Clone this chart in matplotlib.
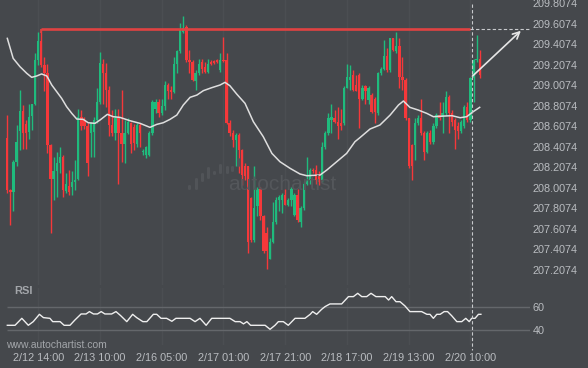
"""Hourly candlestick chart with resistance breakout and RSI panel (autochartist style)."""

import numpy as np
import matplotlib
matplotlib.use("Agg")
import matplotlib.pyplot as plt
from matplotlib.lines import Line2D
from matplotlib.patches import FancyBboxPatch
from matplotlib import transforms

plt.rcParams["font.family"] = ["Liberation Sans", "DejaVu Sans"]

# ---- data ----
opens = [208.50, 207.99, 207.97, 208.26, 208.56, 208.76, 208.63, 208.55, 208.71, 208.83,
         209.26, 209.44, 209.21, 209.13, 208.43, 208.10, 208.17, 208.25, 208.31, 207.98,
         208.03, 208.02, 208.07, 208.10, 208.70, 208.67, 208.61, 208.54, 208.55, 208.67,
         208.85, 209.22, 209.13, 208.96, 208.62, 208.54, 208.69, 208.54, 208.44, 208.54,
         208.64, 208.60, 208.44, 208.62, 208.36, 208.33, 208.33, 208.54, 208.78, 208.85,
         208.74, 208.81, 209.01, 208.96, 208.94, 209.22, 209.34, 209.53, 209.58, 209.26,
         209.24, 209.05, 209.13, 209.24, 209.19, 209.14, 209.24, 209.25, 209.26, 209.16,
         209.26, 209.26, 208.64, 208.54, 208.48, 208.52, 208.38, 208.22, 208.22, 207.91,
         207.50, 207.83, 208.00, 207.73, 207.57, 207.31, 207.48, 207.68, 207.89, 207.89,
         207.94, 207.84, 207.89, 207.74, 207.94, 207.68, 207.81, 208.05, 208.09, 208.18,
         208.18, 208.13, 208.09, 208.41, 208.54, 208.67, 208.69, 208.65, 208.64, 208.64,
         208.98, 209.06, 209.11, 209.01, 209.11, 208.88, 209.00, 208.87, 208.91, 208.88,
         208.74, 209.13, 209.17, 209.30, 209.16, 209.47, 209.34, 209.39, 209.09, 209.06,
         208.69, 208.43, 208.43, 208.64, 208.69, 208.54, 208.36, 208.54, 208.46, 208.61,
         208.72, 208.70, 208.74, 208.90, 208.74, 208.67, 208.61, 208.56, 208.61, 208.80,
         208.67, 209.08, 209.26, 209.27]
highs = [208.72, 208.00, 208.28, 208.62, 208.96, 208.82, 208.67, 208.83, 208.83, 209.32,
         209.53, 209.56, 209.29, 209.22, 208.44, 208.31, 208.36, 208.41, 208.33, 208.15,
         208.18, 208.17, 208.28, 208.78, 208.77, 208.70, 208.64, 208.65, 208.70, 208.98,
         209.33, 209.27, 209.23, 209.00, 208.77, 208.78, 208.78, 208.96, 208.67, 208.69,
         208.65, 208.63, 208.64, 208.64, 208.39, 208.42, 208.56, 208.87, 208.88, 208.88,
         208.88, 209.05, 209.03, 209.00, 209.29, 209.35, 209.62, 209.69, 209.60, 209.35,
         209.26, 209.16, 209.27, 209.27, 209.24, 209.27, 209.26, 209.26, 209.27, 209.32,
         209.48, 209.32, 208.67, 208.57, 208.54, 208.54, 208.39, 208.25, 208.22, 207.92,
         208.22, 208.02, 208.02, 207.74, 207.63, 207.52, 207.87, 207.92, 207.94, 207.96,
         208.00, 207.91, 208.02, 207.96, 208.00, 207.83, 208.07, 208.31, 208.20, 208.20,
         208.23, 208.17, 208.46, 208.56, 208.74, 208.83, 208.77, 208.80, 208.78, 209.00,
         209.22, 209.21, 209.16, 209.11, 209.13, 209.01, 209.01, 209.00, 208.93, 208.90,
         209.14, 209.19, 209.45, 209.37, 209.47, 209.47, 209.53, 209.47, 209.29, 209.08,
         208.69, 208.44, 208.69, 208.72, 208.88, 208.56, 208.56, 208.57, 208.64, 208.74,
         208.85, 208.85, 208.95, 208.91, 208.77, 208.69, 208.65, 208.67, 208.82, 208.85,
         209.09, 209.27, 209.50, 209.35]
lows = [207.96, 207.65, 207.78, 208.22, 208.38, 208.39, 208.39, 208.49, 208.57, 208.82,
        209.21, 209.19, 208.95, 208.35, 207.57, 207.89, 207.92, 208.15, 207.92, 207.96,
        207.94, 207.94, 207.99, 208.09, 208.57, 208.58, 208.12, 208.31, 208.31, 208.64,
        208.83, 208.83, 208.80, 208.51, 208.51, 208.48, 208.05, 208.26, 208.25, 208.53,
        208.35, 208.38, 208.41, 208.41, 208.33, 208.30, 208.32, 208.52, 208.74, 208.70,
        208.72, 208.77, 208.88, 208.88, 208.93, 209.13, 209.32, 209.52, 209.24, 209.13,
        209.05, 208.96, 209.11, 209.13, 209.13, 209.13, 209.21, 209.22, 209.23, 209.14,
        209.24, 208.63, 208.51, 208.41, 208.22, 208.15, 208.04, 208.09, 207.37, 207.48,
        207.48, 207.73, 207.70, 207.37, 207.22, 207.31, 207.47, 207.66, 207.78, 207.76,
        207.84, 207.83, 207.83, 207.73, 207.68, 207.63, 207.79, 208.04, 208.05, 208.15,
        208.05, 208.04, 208.07, 208.39, 208.52, 208.54, 208.64, 208.49, 208.57, 208.62,
        208.98, 208.96, 208.95, 208.95, 208.59, 208.87, 208.83, 208.83, 208.74, 208.64,
        208.72, 209.11, 209.16, 209.14, 209.14, 209.34, 209.32, 208.98, 208.96, 208.67,
        208.20, 208.09, 208.28, 208.62, 208.52, 208.28, 208.35, 208.44, 208.44, 208.59,
        208.67, 208.54, 208.72, 208.54, 208.61, 208.39, 208.49, 208.54, 208.59, 208.65,
        208.65, 208.85, 209.24, 209.08]
closes = [207.99, 207.97, 208.26, 208.46, 208.76, 208.54, 208.54, 208.70, 208.83, 209.26,
          209.44, 209.21, 209.13, 208.43, 208.10, 208.17, 208.25, 208.31, 207.99, 208.05,
          207.97, 208.07, 208.09, 208.70, 208.61, 208.61, 208.25, 208.64, 208.67, 208.85,
          209.23, 209.13, 208.96, 208.62, 208.54, 208.69, 208.54, 208.44, 208.54, 208.65,
          208.44, 208.45, 208.62, 208.54, 208.36, 208.41, 208.54, 208.85, 208.85, 208.74,
          208.81, 209.01, 208.95, 208.94, 209.22, 209.34, 209.55, 209.57, 209.26, 209.24,
          209.06, 209.13, 209.22, 209.17, 209.14, 209.22, 209.22, 209.23, 209.24, 209.26,
          209.25, 208.64, 208.54, 208.48, 208.52, 208.38, 208.13, 208.12, 207.48, 207.50,
          207.81, 208.00, 207.73, 207.39, 207.39, 207.48, 207.68, 207.89, 207.92, 207.94,
          207.84, 207.89, 208.00, 207.94, 207.70, 207.81, 208.05, 208.09, 208.18, 208.17,
          208.09, 208.07, 208.41, 208.54, 208.69, 208.70, 208.65, 208.61, 208.61, 208.98,
          209.09, 209.09, 208.96, 208.95, 208.88, 208.98, 208.95, 208.98, 208.75, 208.75,
          209.13, 209.17, 209.30, 209.16, 209.47, 209.35, 209.39, 209.09, 209.06, 208.69,
          208.22, 208.22, 208.64, 208.69, 208.54, 208.36, 208.54, 208.46, 208.61, 208.72,
          208.69, 208.74, 208.90, 208.74, 208.65, 208.57, 208.56, 208.65, 208.80, 208.67,
          209.08, 209.26, 209.27, 209.11]

# moving average, read as knots (candle index, price)
ma_x = [0, 1.9, 4.1, 6.3, 7.9, 9.5, 11.1, 12.8, 14.4, 16.0, 17.6, 19.2, 20.9, 22.5, 24.6,
        26.2, 28.4, 30.0, 32.4, 34.3, 36.5, 39.7, 43.0, 46.2, 48.4, 50.5, 52.7, 54.9, 57.0,
        59.2, 61.4, 63.5, 66.2, 68.9, 70.5, 72.1, 74.3, 77.0, 79.7, 82.9, 85.7, 88.3, 91.6,
        94.8, 97.0, 101.3, 103.5, 106.7, 109.9, 112.6, 114.3, 117.5, 120.7, 124.0, 126.7,
        128.3, 130.4, 133.1, 135.9, 138.0, 141.2, 144.0, 146.7, 148.8, 150.9, 153.0]
ma_y = [209.467, 209.272, 209.191, 209.126, 209.087, 209.100, 209.120, 209.100, 209.012,
        208.947, 208.882, 208.801, 208.735, 208.680, 208.677, 208.644, 208.638, 208.670,
        208.726, 208.703, 208.696, 208.664, 208.638, 208.599, 208.628, 208.644, 208.677,
        208.719, 208.817, 208.892, 208.914, 208.957, 208.986, 209.012, 209.038, 209.005,
        208.924, 208.833, 208.654, 208.508, 208.345, 208.264, 208.199, 208.144, 208.127,
        208.134, 208.183, 208.264, 208.345, 208.459, 208.501, 208.583, 208.622, 208.719,
        208.817, 208.856, 208.794, 208.768, 208.735, 208.703, 208.709, 208.713, 208.693,
        208.703, 208.752, 208.794]

# RSI knots (candle index, value)
rsi_x = [0, 2.5, 4.7, 6.8, 8.4, 10.4, 11.7, 13.8, 14.7, 17.1, 18.4, 20.3, 21.9, 23.9, 25.5,
         26.6, 27.9, 29.2, 30.4, 31.6, 33.8, 35.2, 36.7, 38.7, 40.6, 41.9, 43.9, 45.2, 47.3,
         48.4, 49.8, 51.6, 53.3, 54.6, 59.2, 60.8, 62.4, 64.4, 66.2, 72.1, 73.8, 75.4, 76.5,
         77.6, 78.8, 83.5, 85.1, 86.7, 87.8, 89.4, 91.0, 93.2, 96.4, 98.1, 98.9, 100.2,
         101.8, 102.9, 104.5, 108.3, 110.5, 112.1, 113.5, 114.8, 116.4, 117.8, 119.4, 122.4,
         123.5, 124.5, 125.9, 127.2, 128.8, 130.4, 134.2, 135.9, 136.9, 138.0, 139.1, 140.2,
         141.5, 142.6, 143.9, 145.6, 147.2, 148.5, 149.6, 150.4, 151.5, 152.6, 153.4]
rsi_y = [44.2, 44.2, 50.1, 44.2, 47.3, 53.5, 50.7, 50.1, 47.3, 47.3, 44.2, 44.2, 48.7, 53.8,
         53.8, 55.8, 53.8, 53.8, 55.8, 53.8, 53.8, 55.8, 52.4, 47.3, 53.5, 50.7, 47.3, 47.3,
         53.5, 53.5, 50.1, 50.1, 47.6, 50.1, 50.1, 47.3, 50.1, 44.2, 50.1, 50.1, 47.3, 47.3,
         45.4, 47.3, 44.2, 44.2, 40.8, 44.2, 47.3, 47.3, 44.2, 50.1, 50.1, 53.5, 55.8, 53.5,
         57.7, 60.0, 62.3, 62.3, 68.5, 68.5, 71.3, 68.5, 68.5, 71.3, 68.5, 68.5, 65.6, 68.5,
         64.2, 64.2, 60.6, 55.8, 55.8, 53.5, 53.5, 50.1, 53.5, 53.5, 55.8, 55.8, 52.4, 47.3,
         47.3, 50.1, 47.3, 50.1, 50.1, 53.5, 53.5]

resistance = 209.56
resistance_start = 11      # candle that set the level
breakout = 150             # candle where the pattern completes
forecast_end = 167
price_ticks = [207.2074 + 0.2 * k for k in range(14)]
rsi_levels = [40, 60]
time_ticks = [10, 30, 50, 70, 90, 110, 130, 150]
time_labels = ["2/12 14:00", "2/13 10:00", "2/16 05:00", "2/17 01:00",
               "2/17 21:00", "2/18 17:00", "2/19 13:00", "2/20 10:00"]

# ---- style ----
BG = "#45484c"
GREEN = "#1fbb7d"
RED = "#f5383a"
TXT = "#b9bcc0"
GRID = "#4b4e52"
W, H = 588, 368

fig = plt.figure(figsize=(W / 100, H / 100), dpi=100, facecolor=BG)
ax = fig.add_axes([0, 1 - 285 / H, 530 / W, 285 / H], facecolor=BG)
rax = fig.add_axes([0, 1 - 345 / H, 530 / W, 57 / H], facecolor=BG)

xlim = (-2.37, 169.3)
for a in (ax, rax):
    a.set_xlim(*xlim)
    for s in a.spines.values():
        s.set_visible(False)
    a.set_xticks(time_ticks)
    a.grid(axis="x", color=GRID, lw=1)
    a.set_axisbelow(True)
    a.yaxis.tick_right()
    a.tick_params(length=0, labelcolor=TXT, labelsize=7.8, pad=2)

# candles
o, h, l, c = map(np.asarray, (opens, highs, lows, closes))
idx = np.arange(len(o))
cols = np.where(c >= o, GREEN, RED)
ax.vlines(idx, l, h, colors=cols, lw=1)
ax.bar(idx, np.maximum(np.abs(c - o), 0.01), bottom=np.minimum(o, c),
       width=0.75, color=cols, linewidth=0)

ax.plot(ma_x, ma_y, color="#dedede", lw=1.1)

# resistance line + projection
ax.vlines(resistance_start, h[resistance_start] - 0.04, resistance, color="#e04242", lw=1.2)
ax.hlines(resistance, resistance_start, breakout, color="#e04242", lw=1.9)
ax.hlines(resistance, breakout, xlim[1], color="#c8cacd", lw=0.8, linestyles=(0, (3, 2)))
ax.annotate("", xy=(forecast_end, resistance), xytext=(breakout, c[breakout]),
            arrowprops=dict(arrowstyle="->", color="#e6e6e6", lw=1.2, mutation_scale=12))

ax.set_ylim(207.061, 209.8415)
ax.set_yticks(price_ticks)
ax.set_yticklabels([f"{v:.4f}" for v in price_ticks])
ax.tick_params(labelbottom=False)

# RSI panel
rax.hlines(rsi_levels, -0.2, xlim[1], color="#64676b", lw=1)
rax.plot(rsi_x, rsi_y, color="#eeeeee", lw=1)
rax.set_ylim(27.5, 75.8)
rax.set_yticks(rsi_levels)
rax.set_yticklabels([str(v) for v in rsi_levels])
rax.set_xticklabels(time_labels)
rax.tick_params(axis="x", pad=6)

# dashed marker through both panels
tr = transforms.blended_transform_factory(ax.transData, fig.transFigure)
fig.add_artist(Line2D([breakout + 0.4] * 2, [1 - 4 / H, 1 - 350 / H], transform=tr,
                      color="#c8cacd", lw=0.8, ls=(0, (3, 2))))

# labels and watermark
fig.text(14 / W, 1 - 291 / H, "RSI", color="#a3a6aa", fontsize=8, fontweight="bold",
         va="center")
fig.text(6 / W, 1 - 345 / H, "www.autochartist.com", color="#a3a6aa", fontsize=7.5,
         va="center")
fig.text(282 / W, 1 - 184 / H, "autochartist", color="#54575b", fontsize=15,
         ha="center", va="center")
logo = [(188, 185, 190), (195, 178, 190), (201, 173, 182), (207, 167, 179),
        (213, 171, 175), (219, 164, 174), (226, 166, 174), (231, 166, 172), (237, 158, 167)]
for x0, y0, y1 in logo:
    fig.add_artist(FancyBboxPatch((x0 / W, 1 - y1 / H), 3 / W, (y1 - y0) / H,
                                  boxstyle="round,pad=0,rounding_size=0.003",
                                  transform=fig.transFigure, color="#515458", lw=0))

fig.savefig("out.png", dpi=100, facecolor=BG)
